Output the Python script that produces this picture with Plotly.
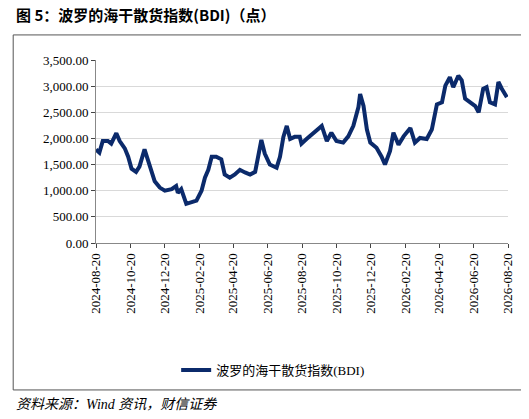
import plotly.graph_objects as go

# BDI readings (approximate)
dates = [
    '2024-08-20', '2024-08-26', '2024-09-01', '2024-09-10', '2024-09-16', '2024-09-25',
    '2024-10-01', '2024-10-10', '2024-10-16', '2024-10-22', '2024-10-30', '2024-11-05',
    '2024-11-14', '2024-11-20', '2024-11-26', '2024-12-02', '2024-12-11', '2024-12-20',
    '2025-01-01', '2025-01-09', '2025-01-12', '2025-01-18', '2025-01-27', '2025-02-05',
    '2025-02-14', '2025-02-23', '2025-03-01', '2025-03-07', '2025-03-13', '2025-03-21',
    '2025-03-30', '2025-04-05', '2025-04-14', '2025-04-23', '2025-05-02', '2025-05-11',
    '2025-05-20', '2025-05-29', '2025-06-03', '2025-06-09', '2025-06-15', '2025-06-24',
    '2025-07-06', '2025-07-12', '2025-07-18', '2025-07-24', '2025-07-30', '2025-08-07',
    '2025-08-16', '2025-08-19', '2025-08-28', '2025-09-09', '2025-09-24', '2025-10-03',
    '2025-10-11', '2025-10-20', '2025-11-01', '2025-11-10', '2025-11-19', '2025-11-28',
    '2025-12-01', '2025-12-07', '2025-12-13', '2025-12-19', '2025-12-30', '2026-01-08',
    '2026-01-14', '2026-01-23', '2026-01-29', '2026-02-07', '2026-02-16', '2026-02-28',
    '2026-03-08', '2026-03-17', '2026-03-29', '2026-04-07', '2026-04-16', '2026-04-25',
    '2026-05-01', '2026-05-09', '2026-05-15', '2026-05-24', '2026-05-30', '2026-06-05',
    '2026-06-14', '2026-06-23', '2026-06-29', '2026-07-07', '2026-07-13', '2026-07-19',
    '2026-07-28', '2026-08-03', '2026-08-09', '2026-08-18',
]
bdi = [
    1790, 1730, 1950, 1950, 1900, 2100,
    1950, 1810, 1650, 1420, 1360, 1460,
    1790, 1600, 1400, 1180, 1060, 1000,
    1030, 1090, 960, 1030, 750, 780,
    810, 1000, 1250, 1400, 1650, 1650,
    1600, 1310, 1250, 1310, 1400, 1350,
    1310, 1360, 1650, 1970, 1710, 1500,
    1440, 1650, 2030, 2240, 1990, 2030,
    2030, 1900, 1990, 2110, 2240, 1950,
    2110, 1950, 1920, 2040, 2240, 2600,
    2850, 2620, 2170, 1920, 1820, 1650,
    1500, 1760, 2110, 1880, 2040, 2200,
    1920, 2010, 1990, 2170, 2650, 2690,
    3010, 3170, 2980, 3200, 3110, 2760,
    2690, 2620, 2500, 2950, 2980, 2690,
    2650, 3080, 2950, 2790,
]
tick_dates = ['2024-08-20', '2024-10-20', '2024-12-20', '2025-02-20', '2025-04-20',
              '2025-06-20', '2025-08-20', '2025-10-20', '2025-12-20', '2026-02-20',
              '2026-04-20', '2026-06-20', '2026-08-20']

serif = 'Liberation Serif, Noto Sans CJK SC'
navy = '#0b2a6b'

fig = go.Figure()
fig.add_trace(go.Scatter(x=dates, y=bdi, mode='lines', name='波罗的海干散货指数(BDI)',
                         line=dict(color=navy, width=4)))

fig.update_layout(
    width=529, height=419,
    margin=dict(l=88, r=29, t=52, b=184),
    plot_bgcolor='white', paper_bgcolor='white',
    font=dict(family=serif, size=13, color='black'),
    showlegend=True,
    legend=dict(orientation='h', x=0.43, y=-0.694, xanchor='center', yanchor='middle',
                font=dict(family=serif, size=13)),
    xaxis=dict(type='date', range=['2024-08-20', '2026-08-20'], tickvals=tick_dates,
               ticktext=tick_dates, tickangle=-90, showgrid=False,
               showline=True, linecolor='#888', ticks='outside', ticklen=4,
               tickfont=dict(size=13)),
    yaxis=dict(range=[0, 3500], dtick=500, tickformat=',.2f', showgrid=True,
               gridcolor='#d9d9d9', showline=True, linecolor='#888', ticks='outside',
               ticklen=4, tickfont=dict(size=13)),
    shapes=[dict(type='rect', xref='paper', yref='paper', x0=-0.201, x1=1.053,
                 y0=-0.803, y1=1.137, line=dict(color='#555', width=1))],
    annotations=[
        dict(text='<b>图 5：波罗的海干散货指数(BDI)（点）</b>', xref='paper', yref='paper',
             x=-0.2, y=1.246, xanchor='left', yanchor='middle', showarrow=False,
             font=dict(family='Noto Sans CJK SC', size=15)),
        dict(text='<i>资料来源：Wind 资讯，财信证券</i>', xref='paper', yref='paper',
             x=-0.2, y=-0.885, xanchor='left', yanchor='middle', showarrow=False,
             font=dict(family=serif, size=14)),
    ],
)

fig.write_html('out.html')
